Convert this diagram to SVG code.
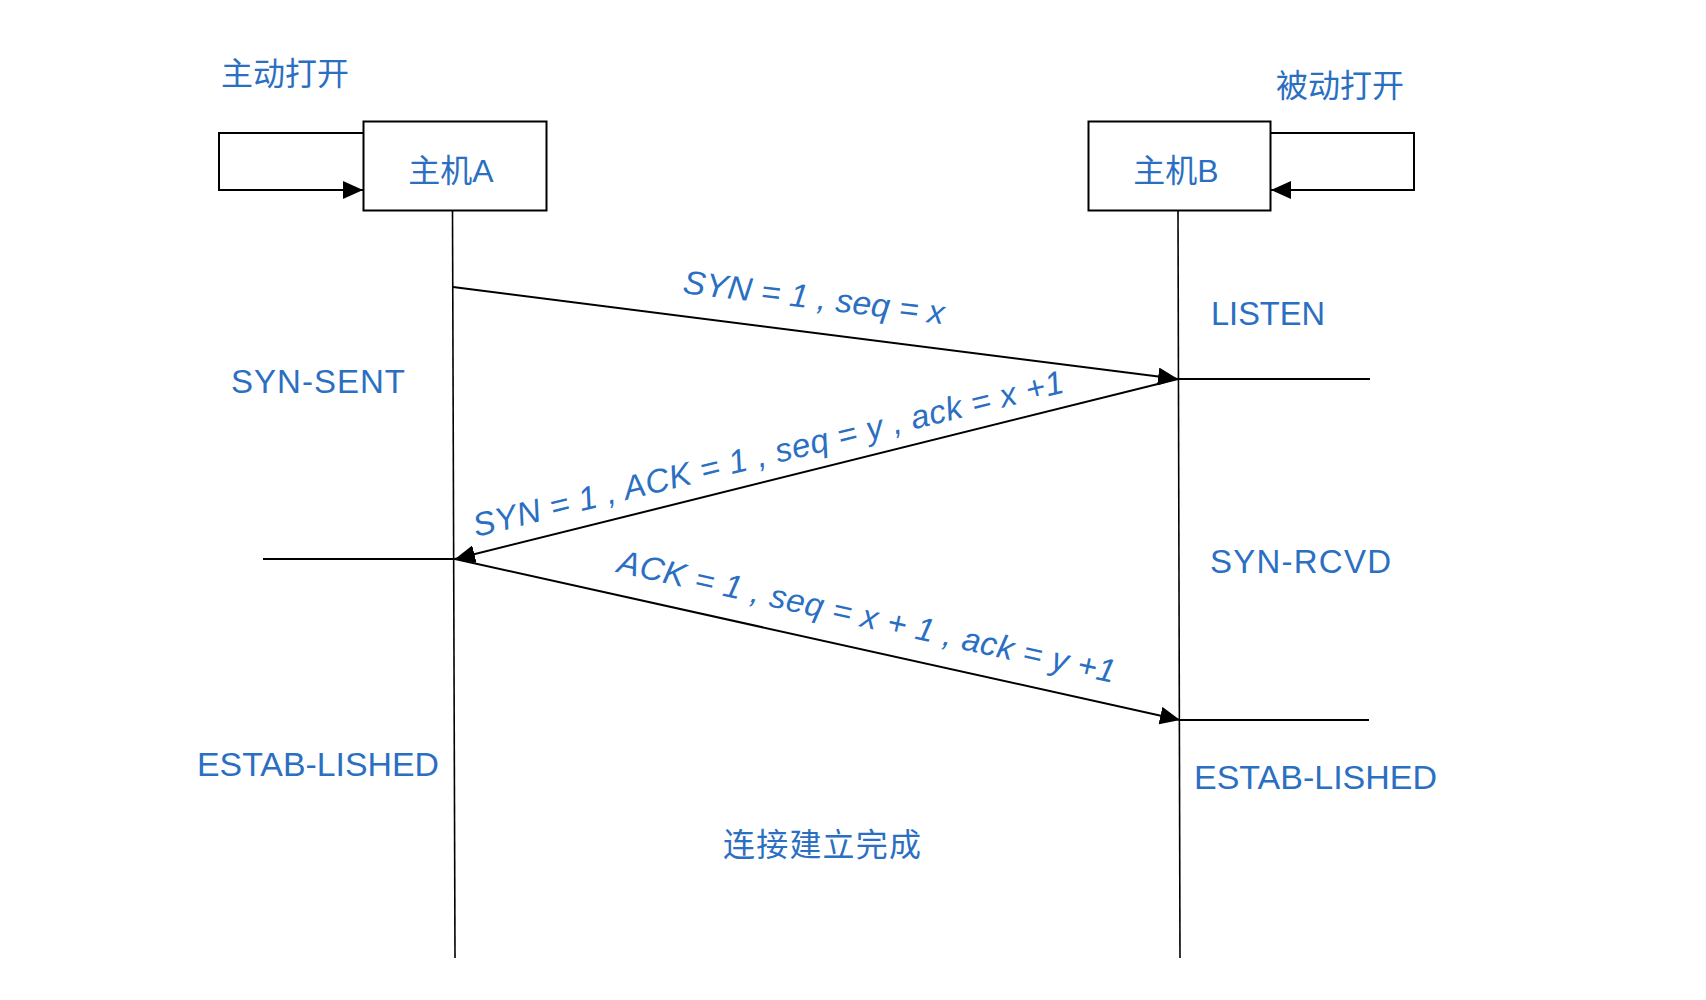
<svg xmlns="http://www.w3.org/2000/svg" width="1706" height="1000" viewBox="0 0 1706 1000">
  <style>
    .t { font-family: "Liberation Sans", "Noto Sans CJK SC", sans-serif; font-size: 33px; fill: #2b6fc2; }
    .cjk { font-size: 32px; }
    .it { font-style: italic; }
    .box { fill: #ffffff; stroke: #000000; stroke-width: 2; }
    .ln { fill: none; stroke: #000000; stroke-width: 2; }
    .life { fill: none; stroke: #000000; stroke-width: 1.6; }
  </style>
  <defs>
    <marker id="ah" viewBox="0 0 20 18" refX="20" refY="9" markerWidth="20" markerHeight="18" markerUnits="userSpaceOnUse" orient="auto">
      <path d="M0,0 L20,9 L0,18 z" fill="#000000"/>
    </marker>
  </defs>
  <rect x="0" y="0" width="1706" height="1000" fill="#ffffff"/>

  <g id="connectors">
    <line class="life" x1="452.5" y1="211" x2="455" y2="958"/>
    <line class="life" x1="1178" y1="211" x2="1180" y2="958"/>
    <path class="ln" d="M363,133 H219 V190 H363" marker-end="url(#ah)"/>
    <path class="ln" d="M1271,133 H1414 V190 H1271" marker-end="url(#ah)"/>
    <line class="ln" x1="453" y1="287" x2="1178" y2="379" marker-end="url(#ah)"/>
    <line class="ln" x1="1178" y1="379" x2="455" y2="559" marker-end="url(#ah)"/>
    <line class="ln" x1="455" y1="559" x2="1180" y2="720" marker-end="url(#ah)"/>
    <line class="ln" x1="1178" y1="379" x2="1370" y2="379"/>
    <line class="ln" x1="263" y1="559" x2="455" y2="559"/>
    <line class="ln" x1="1180" y1="720" x2="1369" y2="720"/>
  </g>

  <g id="hostA">
    <rect class="box" x="363.5" y="121.5" width="183" height="89"/>
    <text class="t cjk" x="451" y="182" text-anchor="middle">主机A</text>
  </g>
  <g id="hostB">
    <rect class="box" x="1088.5" y="121.5" width="182" height="89"/>
    <text class="t cjk" x="1176" y="182" text-anchor="middle">主机B</text>
  </g>

  <g id="label-active-open"><text class="t cjk" x="221" y="85">主动打开</text></g>
  <g id="label-passive-open"><text class="t cjk" x="1276" y="97">被动打开</text></g>
  <g id="state-syn-sent"><text class="t" x="231" y="393" textLength="174" lengthAdjust="spacing">SYN-SENT</text></g>
  <g id="state-listen"><text class="t" x="1211" y="325" textLength="114" lengthAdjust="spacingAndGlyphs">LISTEN</text></g>
  <g id="state-syn-rcvd"><text class="t" x="1210" y="573" textLength="181" lengthAdjust="spacing">SYN-RCVD</text></g>
  <g id="state-established-a"><text class="t" x="197" y="776" textLength="242" lengthAdjust="spacingAndGlyphs">ESTAB-LISHED</text></g>
  <g id="state-established-b"><text class="t" x="1194" y="789" textLength="243" lengthAdjust="spacingAndGlyphs">ESTAB-LISHED</text></g>
  <g id="label-complete"><text class="t cjk" x="723" y="856" textLength="198" lengthAdjust="spacing">连接建立完成</text></g>

  <g id="msg-1"><text class="t it" x="682" y="293" transform="rotate(6.8 682 293)" textLength="263" lengthAdjust="spacingAndGlyphs">SYN = 1 , seq = x</text></g>
  <g id="msg-2"><text class="t it" x="476" y="537" transform="rotate(-13.8 476 537)" textLength="607" lengthAdjust="spacing">SYN = 1 , ACK = 1 , seq = y , ack = x +1</text></g>
  <g id="msg-3"><text class="t it" x="616" y="572" transform="rotate(12.6 616 572)" textLength="509" lengthAdjust="spacing">ACK = 1 , seq = x + 1 , ack = y +1</text></g>
</svg>
